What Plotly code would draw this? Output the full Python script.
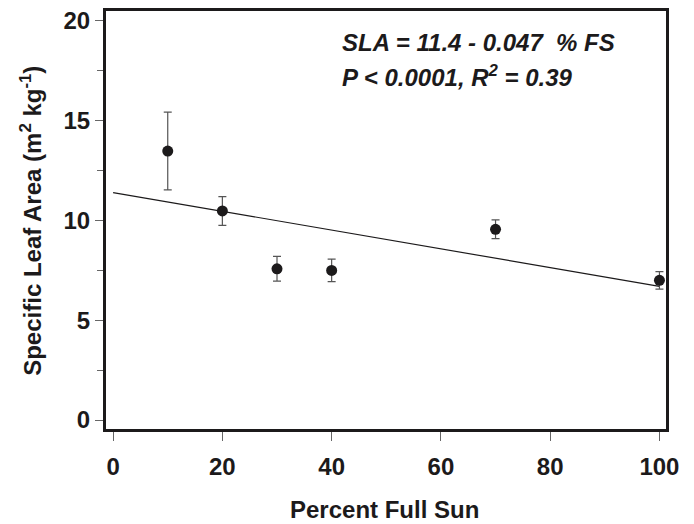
import plotly.graph_objects as go

pct_sun = [10, 20, 30, 40, 70, 100]
sla = [13.48, 10.48, 7.58, 7.50, 9.56, 7.00]
sla_err = [1.95, 0.72, 0.62, 0.56, 0.47, 0.44]
intercept = 11.4
slope = -0.047
fit_x = [0, 100]
fit_y = [intercept + slope * v for v in fit_x]

FONT = "Liberation Sans, Arial, sans-serif"
INK = "#1c1a1b"

fig = go.Figure()
fig.add_trace(go.Scatter(x=fit_x, y=fit_y, mode="lines",
                         line=dict(color=INK, width=1.2), showlegend=False))
fig.add_trace(go.Scatter(x=pct_sun, y=sla, mode="markers",
                         marker=dict(color=INK, size=11),
                         error_y=dict(type="data", array=sla_err, visible=True,
                                      color="#555555", thickness=1.2, width=4),
                         showlegend=False))

fig.add_annotation(xref="paper", yref="paper", x=0.418, y=0.925, xanchor="left",
                   yanchor="middle", showarrow=False,
                   text="<b><i>SLA = 11.4 - 0.047  % FS</i></b>",
                   font=dict(family=FONT, size=24, color=INK))
fig.add_annotation(xref="paper", yref="paper", x=0.418, y=0.845, xanchor="left",
                   yanchor="middle", showarrow=False,
                   text="<b><i>P < 0.0001, R<sup>2</sup> = 0.39</i></b>",
                   font=dict(family=FONT, size=24, color=INK))
# axis titles
fig.add_annotation(xref="paper", yref="paper", x=0.498, y=-0.193, xanchor="center",
                   yanchor="middle", showarrow=False, borderpad=0,
                   text="<b>Percent Full Sun</b>",
                   font=dict(family=FONT, size=24, color=INK))
fig.add_annotation(xref="paper", yref="paper", x=-0.134, y=0.498, xanchor="center",
                   yanchor="middle", showarrow=False, textangle=-90,
                   text="<b>Specific Leaf Area (m<sup>2</sup> kg<sup>-1</sup>)</b>",
                   font=dict(family=FONT, size=24, color=INK))

fig.update_layout(
    width=694, height=524,
    margin=dict(l=106, r=28, t=11, b=95),
    paper_bgcolor="white", plot_bgcolor="white",
    font=dict(family=FONT, color=INK),
)
fig.update_xaxes(range=[-1.3, 101.2], tickvals=[0, 20, 40, 60, 80, 100],
                 showline=True, linewidth=3, linecolor=INK, mirror=True,
                 ticks="outside", ticklen=9, tickcolor="#666666", tickwidth=1,
                 showgrid=False, zeroline=False, automargin=False,
                 tickfont=dict(family=FONT, size=24, color=INK, weight="bold"),
                 ticklabelstandoff=5)
fig.update_yaxes(range=[-0.45, 20.5], tickvals=[0, 5, 10, 15, 20],
                 showline=True, linewidth=3, linecolor=INK, mirror=True,
                 ticks="outside", ticklen=8, tickcolor="#666666", tickwidth=1,
                 minor=dict(dtick=2.5, tick0=0, ticks="outside", ticklen=6,
                            tickcolor="#666666", tickwidth=1),
                 showgrid=False, zeroline=False, automargin=False,
                 tickfont=dict(family=FONT, size=24, color=INK, weight="bold"))

fig.write_html("out.html")
